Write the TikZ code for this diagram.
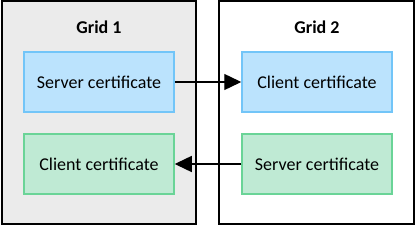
\documentclass[tikz,border=0pt]{standalone}
\usepackage{fontspec}
\setmainfont{Carlito}
\usepackage{tikz}
\usetikzlibrary{arrows.meta, positioning}
\definecolor{gridgray}{HTML}{EBEBEB}
\definecolor{certblue}{HTML}{BBE3FD}
\definecolor{certblueline}{HTML}{72C5F8}
\definecolor{certgreen}{HTML}{BFEAD4}
\definecolor{certgreenline}{HTML}{6AD497}

\begin{document}
\begin{tikzpicture}[
    x=1pt, y=-1pt,
    every node/.style={font=\fontsize{18}{21}\selectfont},
    gridframe/.style={draw=black, line width=2pt, minimum width=194.5pt, minimum height=223pt, inner sep=0pt},
    gridtitle/.style={font=\fontsize{18}{21}\selectfont\bfseries},
    cert/.style={rectangle, line width=1.5pt, minimum width=150pt, minimum height=60pt, inner sep=0pt},
    servercert/.style={cert, fill=certblue, draw=certblueline},
    clientcert/.style={cert, fill=certgreen, draw=certgreenline},
    link/.style={-{Triangle[length=17pt, width=16pt]}, line width=1.4pt, black}
]
    \useasboundingbox (0,0) rectangle (416,227);

    \node[gridframe, fill=gridgray] (g1) at (98.75,113) {};
    \node[gridframe, fill=white] (g2) at (316.25,113) {};

    \node[gridtitle] (t1) at (99,27) {Grid 1};
    \node[gridtitle] (t2) at (317,27) {Grid 2};

    \node[servercert] (s1) at (99,82) {Server certificate};
    \node[clientcert] (c1) at (99,164) {Client certificate};
    \node[servercert] (c2) at (317,82) {Client certificate};
    \node[clientcert] (s2) at (317,164) {Server certificate};

    \draw[link] (s1) -- (c2);
    \draw[link] (s2) -- (c1);
\end{tikzpicture}
\end{document}
